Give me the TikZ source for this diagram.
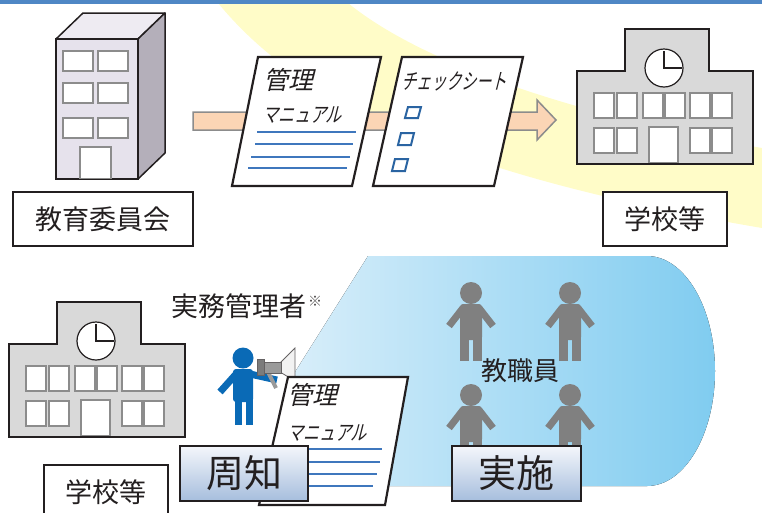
\documentclass[tikz,border=0pt]{standalone}
\usepackage{fontspec}
\setmainfont{Noto Sans CJK JP}
\usetikzlibrary{calc}

\definecolor{ink}{HTML}{231F20}
\definecolor{barblue}{HTML}{4F87C5}
\definecolor{glow}{HTML}{FFFCC8}
\definecolor{peach}{HTML}{FBD5B5}
\definecolor{arrowline}{HTML}{8C8C8C}
\definecolor{winline}{HTML}{8C8C8C}
\definecolor{bldfront}{HTML}{E6E2EC}
\definecolor{bldtop}{HTML}{EEEBF2}
\definecolor{bldside}{HTML}{B4AFBA}
\definecolor{schoolgray}{HTML}{D9D9D9}
\definecolor{ruleblue}{HTML}{3F77BD}
\definecolor{tickblue}{HTML}{2A64A2}
\definecolor{staffgray}{HTML}{808080}
\definecolor{leadblue}{HTML}{0A6AB6}
\definecolor{zoneleft}{HTML}{D8EEFA}
\definecolor{zoneright}{HTML}{80CCF0}
\definecolor{tagtop}{HTML}{F4F6FB}
\definecolor{tagbottom}{HTML}{A6BEDD}
\definecolor{hornbody}{HTML}{9A9A9A}
\definecolor{hornbell}{HTML}{F2F2F2}

\tikzset{
  win/.style={fill=white, draw=winline, line width=1.2pt},
  labelbox/.style={draw=ink, line width=1.6pt, fill=white, inner sep=0pt,
    font=\fontsize{27}{30}\selectfont, text=ink},
  tagbox/.style={draw=ink, line width=2.4pt, top color=tagtop, bottom color=tagbottom,
    inner sep=0pt, font=\fontsize{38}{40}\selectfont, text=ink},
  sheet/.style={fill=white, draw=ink, line width=2.2pt, line join=miter},
  rule/.style={draw=ruleblue, line width=2pt},
  tick/.style={draw=tickblue, line width=2pt, line join=miter},
  slanttext/.style={inner sep=0pt, xslant=0.25, text=ink},
  caption/.style={inner sep=0pt, text=ink, font=\fontsize{27}{30}\selectfont},
  school/.pic={
    \draw[fill=schoolgray, draw=ink, line width=2.4pt, line join=miter]
      (0,42)--(48,42)--(48,0)--(132,0)--(132,42)--(176,42)--(176,135)--(0,135)--cycle;
    \draw[fill=white, draw=ink, line width=1.2pt] (87,39) circle[radius=19];
    \draw[ink, line width=1.8pt] (87,22)--(87,39)--(105,39);
    \foreach \a in {17,40,66,88,113,135} \draw[win] (\a,64) rectangle ++(20,25);
    \foreach \a in {17,40,113,135} \draw[win] (\a,99) rectangle ++(20,25);
    \draw[win] (72,98) rectangle (101,133.6);
  },
  staff/.pic={
    \fill[staffgray] (0,0) circle[radius=11];
    \fill[staffgray, rounded corners=3pt] (-11,11) rectangle (11,47);
    \draw[staffgray, line width=7pt] (-8,15) -- (-22,33);
    \draw[staffgray, line width=7pt] (8,15) -- (22,33);
    \fill[staffgray] (-11,44) rectangle (-2,68);
    \fill[staffgray] (2,44) rectangle (11,68);
  }
}

\begin{document}
\begin{tikzpicture}[x=1pt, y=-1pt]
\useasboundingbox (0,0) rectangle (762,512);

% light glow band across the top half
\fill[glow] (218,3) .. controls (290,90) and (420,170) .. (762,228)
  -- (762,148) .. controls (600,120) and (430,70) .. (348,3) -- cycle;

% header rule
\fill[barblue] (0,0) rectangle (762,3.5);

% ---------- board of education building ----------
\draw[fill=bldtop, draw=ink, line width=1.5pt, line join=round]
  (56,39) -- (83,13) -- (165,13) -- (138,39) -- cycle;
\draw[fill=bldside, draw=ink, line width=1.5pt, line join=round]
  (138,39) -- (165,13) -- (165,153) -- (138,179) -- cycle;
\draw[fill=bldfront, draw=ink, line width=1.5pt] (56,39) rectangle (138,179);
\foreach \r in {51,83,118} {
  \draw[win] (63,\r) rectangle ++(30,20);
  \draw[win] (98,\r) rectangle ++(30,20);
}
\draw[win] (80,147) rectangle (111,178.2);
\node[labelbox, minimum width=180pt, minimum height=54pt] (boe) at (103,219) {教育委員会};

% ---------- distribution arrow ----------
\coordinate (arrowtail) at (193,121);
\coordinate (arrowtip) at (556,120);
\draw[fill=peach, draw=arrowline, line width=1.5pt, line join=miter]
  (193,112) -- (537,112) -- (537,100) -- (arrowtip) -- (537,140) -- (537,130) -- (193,130) -- cycle;

% management manual sheet
\draw[sheet] (258,57) -- (381,57) -- (352,186) -- (232,186) -- cycle;
\node[slanttext, font=\fontsize{25}{28}\selectfont] (manual1) at (291,80) {管理};
\node[slanttext, font=\fontsize{21}{24}\selectfont, xscale=0.76] (manual1b) at (304,115) {マニュアル};
\draw[rule] (257,132) -- (356,132);
\draw[rule] (255,144) -- (353,144);
\draw[rule] (251,157) -- (350,157);
\draw[rule] (248,168) -- (347,168);

% check sheet
\draw[sheet] (402,57) -- (523,57) -- (494,186) -- (373,186) -- cycle;
\node[slanttext, font=\fontsize{22}{24}\selectfont, xscale=0.68] (checks) at (456,81) {チェックシート};
\draw[tick] (408,107) -- (421,107) -- (418,118) -- (405,118) -- cycle;
\draw[tick] (401,133) -- (414,133) -- (411,145) -- (398,145) -- cycle;
\draw[tick] (395,159) -- (408,159) -- (405,171) -- (392,171) -- cycle;

% ---------- school (upper) ----------
\pic at (577,29) {school};
\node[labelbox, minimum width=124pt, minimum height=54pt] (school1) at (665,219) {学校等};

% ---------- staff area ----------
\fill[left color=zoneleft, right color=zoneright]
  (295,372) -- (368,256) -- (647,256)
  arc[start angle=-90, end angle=90, x radius=68, y radius=115]
  -- (290,486) -- cycle;

\pic at (471,293) {staff};
\pic at (570,293) {staff};
\pic at (471,395) {staff};
\pic at (570,395) {staff};
\node[caption, font=\fontsize{26}{28}\selectfont] (staffname) at (520,371) {教職員};

% ---------- school (lower) ----------
\pic at (9,302) {school};
\node[labelbox, minimum width=124pt, minimum height=54pt] (school2) at (106,492) {学校等};

\node[caption, anchor=east] (officer) at (307,306) {実務管理者};
\node[inner sep=0pt, text=ink!80, font=\fontsize{14}{15}\selectfont, anchor=west] (note) at (officer.east) [yshift=5pt, xshift=1pt] {※};

% announcing officer with megaphone
\fill[leadblue] (243,358) circle[radius=10.5];
\fill[leadblue, rounded corners=3pt] (233,369) rectangle (253,402);
\draw[leadblue, line width=7pt] (237,373) -- (220,392);
\draw[leadblue, line width=7pt] (250,374) -- (277,380);
\fill[leadblue] (235,398) rectangle (242,425);
\fill[leadblue] (246,398) rectangle (253,425);
\draw[hornbody, line width=4pt] (268,372) -- (276,388);
\draw[fill=hornbell, draw=ink!70, line width=0.8pt] (280,363) -- (295,348) -- (295,381) -- (280,372) -- cycle;
\draw[fill=hornbody, draw=ink!70, line width=0.8pt] (263,362) rectangle (281,373);
\draw[fill=hornbody!80!black, draw=ink!70, line width=0.8pt] (257,359) rectangle (264,375);

% manual handed out
\draw[sheet] (288,377) -- (408,377) -- (385,505) -- (259,505) -- cycle;
\node[slanttext, font=\fontsize{25}{28}\selectfont] (manual2) at (315,395) {管理};
\node[slanttext, font=\fontsize{21}{24}\selectfont, xscale=0.76] (manual2b) at (329,433) {マニュアル};
\draw[rule] (300,449) -- (382,449);
\draw[rule] (300,462) -- (380,462);
\draw[rule] (300,474) -- (377,474);
\draw[rule] (300,486) -- (373,486);

% action tags
\node[tagbox, minimum width=128pt, minimum height=55pt] (notify) at (244,473.5) {周知};
\node[tagbox, minimum width=129pt, minimum height=55pt] (carryout) at (516.5,473.5) {実施};
\end{tikzpicture}
\end{document}
